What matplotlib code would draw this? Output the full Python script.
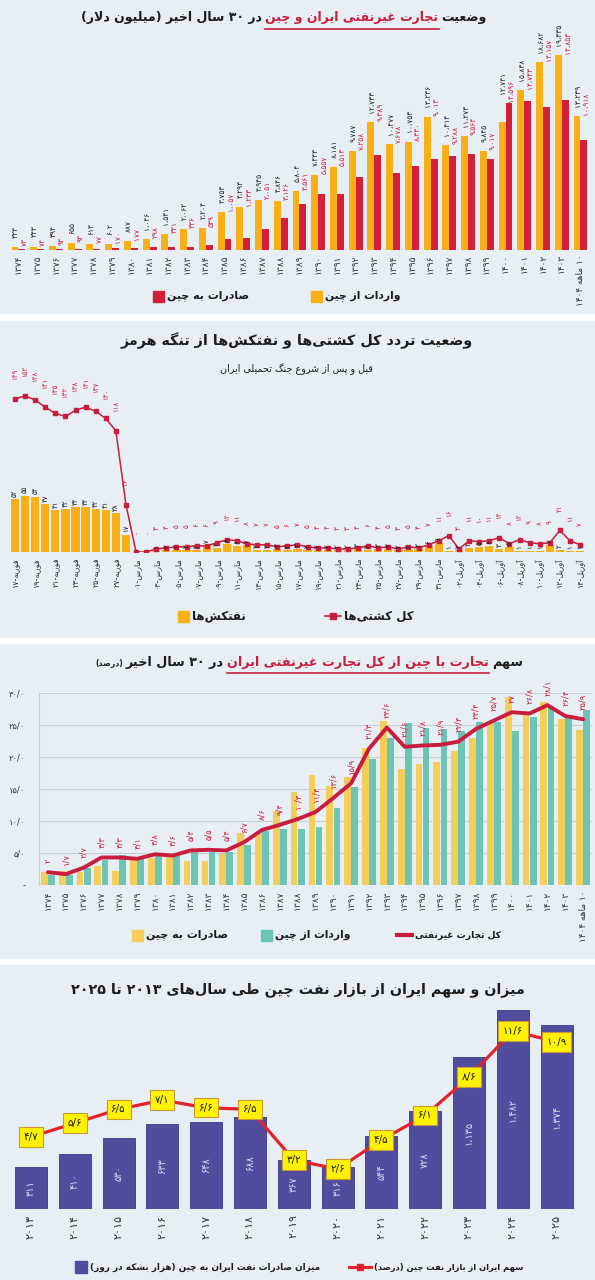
import matplotlib
matplotlib.use("Agg")
import matplotlib.pyplot as plt
from matplotlib.patches import Rectangle
from matplotlib.lines import Line2D
import numpy as np

W, H = 595, 1280

BG = "#e7eef4"
DARK = "#1c1c1c"
CRIMSON = "#c81d3f"
ORANGE = "#f8b016"
RED = "#d3203a"
YELLOW = "#f5cd5a"
TEAL = "#6cc4b4"
PURPLE = "#524c9f"
LINE_RED = "#e2232b"
BOX_YELLOW = "#fff200"
GRID = "#c6cdd3"

# panel 1 + 3: solar years
trade_years = ["۱۳۷۴", "۱۳۷۵", "۱۳۷۶", "۱۳۷۷", "۱۳۷۸", "۱۳۷۹", "۱۳۸۰", "۱۳۸۱",
               "۱۳۸۲", "۱۳۸۳", "۱۳۸۴", "۱۳۸۵", "۱۳۸۶", "۱۳۸۷", "۱۳۸۸", "۱۳۸۹",
               "۱۳۹۰", "۱۳۹۱", "۱۳۹۲", "۱۳۹۳", "۱۳۹۴", "۱۳۹۵", "۱۳۹۶", "۱۳۹۷",
               "۱۳۹۸", "۱۳۹۹", "۱۴۰۰", "۱۴۰۱", "۱۴۰۲", "۱۴۰۳", "۱۰ ماهه ۱۴۰۴"]

# panel 1: non-oil trade, million dollars
imports_from_china = [333, 343, 394, 655, 613, 602, 887, 1046, 1541, 2062, 2204, 3753,
                      4293, 4945, 4846, 5804, 7443, 8181, 9787, 12733, 10477, 10753,
                      13236, 10414, 11273, 9845, 12741, 15838, 18682, 19335, 13239]
exports_to_china = [73, 74, 93, 93, 77, 170, 177, 298, 331, 336, 539, 1057,
                    1233, 2051, 3126, 4561, 5557, 5513, 7258, 9389, 7678, 8330,
                    9013, 9288, 9564, 9017, 14596, 14743, 14157, 14853, 10918]

# panel 2: daily transits through Hormuz
all_ships = [149, 152, 148, 141, 135, 132, 138, 141, 137, 130, 118, 46,
             0, 0, 3, 4, 5, 5, 6, 6, 9, 12, 11, 8, 7, 7, 5, 6,
             7, 5, 4, 4, 3, 3, 4, 6, 4, 5, 3, 5, 4, 7, 11, 16, 3, 11, 10, 11,
             14, 8, 12, 9, 8, 9, 21, 11, 7]
tankers = [52, 55, 54, 47, 41, 42, 44, 44, 42, 41, 38, 17,
           0, 0, 1, 2, 2, 2, 2, 7, 4, 8, 6, 7, 2, 2, 3, 2,
           3, 2, 2, 2, 2, 2, 3, 2, 3, 3, 2, 2, 3, 6, 9, 1, 2, 4, 5, 6,
           3, 5, 1, 1, 1, 7, 2, 1, 1]
ship_dates = ["فوریه-۱۷", "فوریه-۱۹", "فوریه-۲۱", "فوریه-۲۳", "فوریه-۲۵", "فوریه-۲۷",
              "مارس-۰۱", "مارس-۰۳", "مارس-۰۵", "مارس-۰۷", "مارس-۰۹", "مارس-۱۱",
              "مارس-۱۳", "مارس-۱۵", "مارس-۱۷", "مارس-۱۹", "مارس-۲۱", "مارس-۲۳",
              "مارس-۲۵", "مارس-۲۷", "مارس-۲۹", "مارس-۳۱", "آوریل-۰۲", "آوریل-۰۴",
              "آوریل-۰۶", "آوریل-۰۸", "آوریل-۱۰", "آوریل-۱۲", "آوریل-۱۴"]

# panel 3: share of china in non-oil trade, percent
share_exports = [2.1, 2.2, 2.1, 3.0, 2.2, 3.9, 4.2, 4.3, 3.75, 3.75, 4.9, 8.1,
                 8.3, 11.5, 14.5, 17.2, 15.4, 16.8, 21.4, 25.6, 18.1, 18.9,
                 19.2, 20.9, 23.0, 25.4, 29.4, 27.1, 28.6, 25.9, 24.2]
share_imports = [1.6, 1.5, 2.6, 3.9, 4.7, 4.1, 4.7, 4.6, 5.7, 5.2, 5.1, 6.25,
                 8.4, 8.75, 8.7, 9.0, 12.0, 15.3, 19.7, 23.0, 25.3, 24.6,
                 24.3, 24.1, 25.5, 25.4, 24.0, 26.3, 27.9, 26.6, 27.3]
share_total = [2, 1.7, 2.7, 4.3, 4.3, 4.1, 4.8, 4.6, 5.4, 5.5, 5.4, 6.7,
               8.6, 9.4, 10.3, 11.4, 13.6, 15.9, 21.3, 24.6, 21.6, 21.8,
               21.9, 22.4, 24.4, 25.7, 27, 26.8, 28.1, 26.4, 25.9]
share_ticks = [0, 5, 10, 15, 20, 25, 30]
share_tick_labels = ["-", "۵/۰", "۱۰/۰", "۱۵/۰", "۲۰/۰", "۲۵/۰", "۳۰/۰"]

# panel 4: iran oil exports to china
oil_years = ["۲۰۱۳", "۲۰۱۴", "۲۰۱۵", "۲۰۱۶", "۲۰۱۷", "۲۰۱۸", "۲۰۱۹",
             "۲۰۲۰", "۲۰۲۱", "۲۰۲۲", "۲۰۲۳", "۲۰۲۴", "۲۰۲۵"]
oil_volume = [311, 410, 530, 633, 648, 688, 367, 316, 544, 728, 1135, 1482, 1374]
oil_share = [4.7, 5.6, 6.5, 7.1, 6.6, 6.5, 3.2, 2.6, 4.5, 6.1, 8.6, 11.6, 10.9]


# ---- persian shaping (matplotlib does no arabic shaping / bidi) ----
FORMS = {
    "آ": ("\uFE81", "\uFE82", None, None),
    "ا": ("\uFE8D", "\uFE8E", None, None),
    "ب": ("\uFE8F", "\uFE90", "\uFE91", "\uFE92"),
    "پ": ("\uFB56", "\uFB57", "\uFB58", "\uFB59"),
    "ت": ("\uFE95", "\uFE96", "\uFE97", "\uFE98"),
    "ث": ("\uFE99", "\uFE9A", "\uFE9B", "\uFE9C"),
    "ج": ("\uFE9D", "\uFE9E", "\uFE9F", "\uFEA0"),
    "چ": ("\uFB7A", "\uFB7B", "\uFB7C", "\uFB7D"),
    "ح": ("\uFEA1", "\uFEA2", "\uFEA3", "\uFEA4"),
    "خ": ("\uFEA5", "\uFEA6", "\uFEA7", "\uFEA8"),
    "د": ("\uFEA9", "\uFEAA", None, None),
    "ذ": ("\uFEAB", "\uFEAC", None, None),
    "ر": ("\uFEAD", "\uFEAE", None, None),
    "ز": ("\uFEAF", "\uFEB0", None, None),
    "ژ": ("\uFB8A", "\uFB8B", None, None),
    "س": ("\uFEB1", "\uFEB2", "\uFEB3", "\uFEB4"),
    "ش": ("\uFEB5", "\uFEB6", "\uFEB7", "\uFEB8"),
    "ص": ("\uFEB9", "\uFEBA", "\uFEBB", "\uFEBC"),
    "ض": ("\uFEBD", "\uFEBE", "\uFEBF", "\uFEC0"),
    "ط": ("\uFEC1", "\uFEC2", "\uFEC3", "\uFEC4"),
    "ظ": ("\uFEC5", "\uFEC6", "\uFEC7", "\uFEC8"),
    "ع": ("\uFEC9", "\uFECA", "\uFECB", "\uFECC"),
    "غ": ("\uFECD", "\uFECE", "\uFECF", "\uFED0"),
    "ف": ("\uFED1", "\uFED2", "\uFED3", "\uFED4"),
    "ق": ("\uFED5", "\uFED6", "\uFED7", "\uFED8"),
    "ک": ("\uFB8E", "\uFB8F", "\uFB90", "\uFB91"),
    "گ": ("\uFB92", "\uFB93", "\uFB94", "\uFB95"),
    "ل": ("\uFEDD", "\uFEDE", "\uFEDF", "\uFEE0"),
    "م": ("\uFEE1", "\uFEE2", "\uFEE3", "\uFEE4"),
    "ن": ("\uFEE5", "\uFEE6", "\uFEE7", "\uFEE8"),
    "و": ("\uFEED", "\uFEEE", None, None),
    "ه": ("\uFEE9", "\uFEEA", "\uFEEB", "\uFEEC"),
    "ی": ("\uFBFC", "\uFBFD", "\uFBFE", "\uFBFF"),
}
LAM_ALEF = {"ا": ("\uFEFB", "\uFEFC"), "آ": ("\uFEF5", "\uFEF6")}
DIGITS = set("0123456789۰۱۲۳۴۵۶۷۸۹")
NUM_SEPS = set("،٬./,")
MIRROR = {"(": ")", ")": "("}


def shape(s):
    out = []
    i = 0
    n = len(s)
    while i < n:
        c = s[i]
        if c == "\u200c":
            i += 1
            continue
        if c in FORMS:
            prev = s[i - 1] if i > 0 else ""
            join_prev = prev in FORMS and FORMS[prev][2] is not None
            if c == "ل" and i + 1 < n and s[i + 1] in LAM_ALEF:
                iso, fin = LAM_ALEF[s[i + 1]]
                out.append(fin if join_prev else iso)
                i += 2
                continue
            nxt = s[i + 1] if i + 1 < n else ""
            iso, fin, ini, med = FORMS[c]
            join_next = ini is not None and nxt in FORMS
            if join_prev and join_next:
                out.append(med)
            elif join_prev:
                out.append(fin)
            elif join_next:
                out.append(ini)
            else:
                out.append(iso)
        else:
            out.append(c)
        i += 1
    return out


def rtl(s):
    chars = shape(s)
    tokens = []
    i = 0
    n = len(chars)
    while i < n:
        if chars[i] in DIGITS:
            j = i
            while j < n and (chars[j] in DIGITS or
                             (chars[j] in NUM_SEPS and j + 1 < n and chars[j + 1] in DIGITS)):
                j += 1
            tokens.append("".join(chars[i:j]))
            i = j
        else:
            tokens.append(MIRROR.get(chars[i], chars[i]))
            i += 1
    return "".join(reversed(tokens))


def fa(v):
    return str(v).translate(str.maketrans("0123456789", "۰۱۲۳۴۵۶۷۸۹"))


def fa_int(v):
    return fa(f"{v:,}").replace(",", "،")


def fa_dec(v):
    return fa(f"{v:g}".replace(".", "/"))


# ---- layout helpers ----
fig = plt.figure(figsize=(W / 100, H / 100), dpi=100)
fig.patch.set_facecolor("white")
renderer = fig.canvas.get_renderer()


def fy(y_px):
    return 1 - y_px / H


def px_rect(left, top, width, height):
    return [left / W, 1 - (top + height) / H, width / W, height / H]


def clean_axes(ax):
    for sp in ax.spines.values():
        sp.set_visible(False)
    ax.set_facecolor("none")
    ax.tick_params(length=0)
    ax.set_yticks([])


def fit_size(text, size, width, weight="bold"):
    t = fig.text(0, 0, text, fontsize=size, fontweight=weight)
    w = t.get_window_extent(renderer).width
    t.remove()
    return size * width / w


def title_row(segments, x_right, y_base, width, weight="bold", ul_offset=None):
    # segments: (text, color, relative size, underline), logical (right-to-left) order
    def place(size):
        arts, lines = [], []
        x = x_right
        for text, color, rel, ul in segments:
            t = fig.text(x / W, fy(y_base), rtl(text), ha="right", va="baseline",
                         color=color, fontsize=size * rel, fontweight=weight)
            bb = t.get_window_extent(renderer)
            arts.append(t)
            if ul:
                lines.append((bb.x0, bb.x1, color))
            x = bb.x0 - size * 0.35
        return arts, lines, x_right - (x + size * 0.35)

    arts, _, total = place(10)
    for a in arts:
        a.remove()
    size = 10 * width / total
    arts, lines, _ = place(size)
    if ul_offset is not None:
        for x0, x1, color in lines:
            fig.add_artist(Line2D([x0 / W, x1 / W], [fy(y_base + ul_offset)] * 2,
                                  transform=fig.transFigure, color=color, lw=1.2))


def legend_text(x_px, y_px, text, size, width):
    s = rtl(text)
    if width is not None:
        size = fit_size(s, size, width)
    fig.text(x_px / W, fy(y_px), s, ha="left", va="center",
             fontsize=size, fontweight="bold", color=DARK)


def legend_square(x_px, y_px, color, text, size=8.5, box=11, width=None):
    fig.add_artist(Rectangle((x_px / W, fy(y_px + box / 2)), box / W, box / H,
                             transform=fig.transFigure, color=color))
    legend_text(x_px + box + 3, y_px, text, size, width)


def legend_line(x0, x1, y_px, color, text, lw=2.0, marker=None, size=8.5, width=None):
    fig.add_artist(Line2D([x0 / W, x1 / W], [fy(y_px)] * 2, transform=fig.transFigure,
                          color=color, lw=lw))
    if marker:
        fig.add_artist(Line2D([(x0 + x1) / 2 / W], [fy(y_px)], transform=fig.transFigure,
                              color=color, marker=marker, ms=4, lw=0))
    legend_text(x1 + 3, y_px, text, size, width)


def draw_backgrounds():
    for top, bottom in [(0, 313), (321, 637), (644, 958), (965, 1280)]:
        fig.add_artist(Rectangle((0, fy(bottom)), 1, (bottom - top) / H,
                                 transform=fig.transFigure, color=BG, zorder=-10))


def plot_trade_values():
    ax = fig.add_axes(px_rect(9.1, 250 - 201.7, 580.7, 201.7))
    clean_axes(ax)
    x = np.arange(len(trade_years))
    bw = 0.37
    ax.bar(x - bw / 2, imports_from_china, bw, color=ORANGE)
    ax.bar(x + bw / 2, exports_to_china, bw, color=RED)
    for i, (imp, exp) in enumerate(zip(imports_from_china, exports_to_china)):
        top = max(imp, exp)
        ax.text(i - 0.12, top + 900, fa_int(imp), rotation=90, ha="center", va="bottom",
                fontsize=5.3, color=DARK)
        ax.text(i + 0.32, top + 100, fa_int(exp), rotation=90, ha="center", va="bottom",
                fontsize=5.3, color=CRIMSON)
    ax.set_xlim(-0.5, len(trade_years) - 0.5)
    ax.set_ylim(0, 20000)
    ax.set_xticks(x, [rtl(t) for t in trade_years], rotation=90, fontsize=6.5, color="#333333")
    ax.tick_params(axis="x", pad=3)

    title_row([("وضعیت", DARK, 1, False),
               ("تجارت غیرنفتی ایران و چین", CRIMSON, 1, True),
               ("در ۳۰ سال اخیر (میلیون دلار)", DARK, 1, False)],
              487, 21, 407, ul_offset=8)
    legend_square(153, 296, RED, "صادرات به چین", width=82)
    legend_square(311, 296, ORANGE, "واردات از چین", width=76)


def plot_hormuz():
    ax = fig.add_axes(px_rect(8.9, 552 - 174.6, 577.2, 174.6))
    clean_axes(ax)
    x = np.arange(len(all_ships))
    ax.bar(x, tankers, 0.82, color=ORANGE, zorder=1)
    ax.plot(x, all_ships, color=CRIMSON, lw=1.1, marker="s", ms=3, zorder=3)
    for i, (s, t) in enumerate(zip(all_ships, tankers)):
        ax.text(i, s + 18, fa(s), rotation=90, ha="center", va="bottom",
                fontsize=5, color=CRIMSON)
        ax.text(i, t + 2, fa(t), rotation=90, ha="center", va="bottom",
                fontsize=5, color=DARK)
    ax.set_xlim(-0.6, len(all_ships) - 0.4)
    ax.set_ylim(0, 170)
    ax.set_xticks(np.arange(0, len(all_ships), 2), [rtl(d) for d in ship_dates],
                  rotation=90, fontsize=5.8, color="#333333")
    ax.tick_params(axis="x", pad=4)

    title_row([("وضعیت تردد کل کشتی‌ها و نفتکش‌ها از تنگه هرمز", DARK, 1, False)],
              473, 345, 353)
    title_row([("قبل و پس از شروع جنگ تحمیلی ایران", DARK, 1, False)],
              373, 372, 153, weight="normal")
    legend_square(178, 616, ORANGE, "نفتکش‌ها")
    legend_line(325, 341, 616, CRIMSON, "کل کشتی‌ها", lw=1.2, marker="s")


def plot_trade_share():
    ax = fig.add_axes(px_rect(39, 693, 553, 192))
    clean_axes(ax)
    x = np.arange(len(trade_years))
    bw = 0.38
    for v in share_ticks[1:]:
        ax.axhline(v, color=GRID, lw=0.8, zorder=0)
    ax.spines["left"].set_visible(True)
    ax.spines["left"].set_color(GRID)
    ax.bar(x - 0.2, share_exports, bw, color=YELLOW, zorder=1)
    ax.bar(x + 0.2, share_imports, bw, color=TEAL, zorder=1)
    ax.plot(x, share_total, color=CRIMSON, lw=2.8, zorder=3, solid_capstyle="round")
    for i, v in enumerate(share_total):
        ax.text(i, v + 1.5, fa_dec(v), rotation=90, ha="center", va="bottom",
                fontsize=6, color=CRIMSON)
    ax.set_xlim(-0.5, len(trade_years) - 0.5)
    ax.set_ylim(0, 30)
    ax.set_yticks(share_ticks, share_tick_labels, fontsize=6, color="#333333")
    ax.tick_params(axis="y", pad=10)
    ax.set_xticks(x, [rtl(t) for t in trade_years], rotation=90, fontsize=6.5, color="#333333")
    ax.tick_params(axis="x", pad=4)

    title_row([("سهم", DARK, 1, False),
               ("تجارت با چین از کل تجارت غیرنفتی ایران", CRIMSON, 1, True),
               ("در ۳۰ سال اخیر", DARK, 1, False),
               ("(درصد)", DARK, 0.62, False)],
              523, 666, 428, ul_offset=7)
    legend_square(132, 935, YELLOW, "صادرات به چین", width=82)
    legend_square(261, 935, TEAL, "واردات از چین", width=76)
    legend_line(397, 412, 935, CRIMSON, "کل تجارت غیرنفتی", lw=3, width=86)


def plot_oil():
    ax = fig.add_axes(px_rect(9.1, 1209 - 214.4, 569.4, 214.4))
    clean_axes(ax)
    x = np.arange(len(oil_years))
    ax.bar(x, oil_volume, 0.73, color=PURPLE, edgecolor="#3b3684", lw=0.6)
    for i, v in enumerate(oil_volume):
        ax.text(i, v / 2, fa_int(v), rotation=90, ha="center", va="center",
                fontsize=7, color="#dcd9f2")
    ax.set_xlim(-0.5, len(oil_years) - 0.5)
    ax.set_ylim(0, 1600)
    ax.set_xticks(x, oil_years, rotation=90, fontsize=8, color="#333333")
    ax.tick_params(axis="x", pad=4)

    ax2 = ax.twinx()
    clean_axes(ax2)
    ax2.plot(x, oil_share, color=LINE_RED, lw=2.3, zorder=3)
    for i, v in enumerate(oil_share):
        ax2.text(i, v, fa_dec(v), ha="center", va="center", fontsize=7.5, color=DARK,
                 zorder=4, bbox=dict(boxstyle="square,pad=0.45", fc=BOX_YELLOW,
                                     ec="#c99a36", lw=0.8))
    ax2.set_ylim(0, 13.98)

    title_row([("میزان و سهم ایران از بازار نفت چین طی سال‌های ۲۰۱۳ تا ۲۰۲۵", DARK, 1, False)],
              525, 993, 453)
    legend_square(75, 1267, PURPLE, "میزان صادرات نفت ایران به چین (هزار بشکه در روز)",
                  size=7.5, box=12, width=230)
    legend_line(349, 371, 1267, LINE_RED, "سهم ایران از بازار نفت چین (درصد)",
                lw=2.2, marker="s", size=7.5, width=150)


def main():
    plt.rcParams["font.family"] = ["DejaVu Sans"]
    draw_backgrounds()
    plot_trade_values()
    plot_hormuz()
    plot_trade_share()
    plot_oil()
    fig.savefig("out.png", dpi=100, facecolor=fig.get_facecolor())


if __name__ == "__main__":
    main()
